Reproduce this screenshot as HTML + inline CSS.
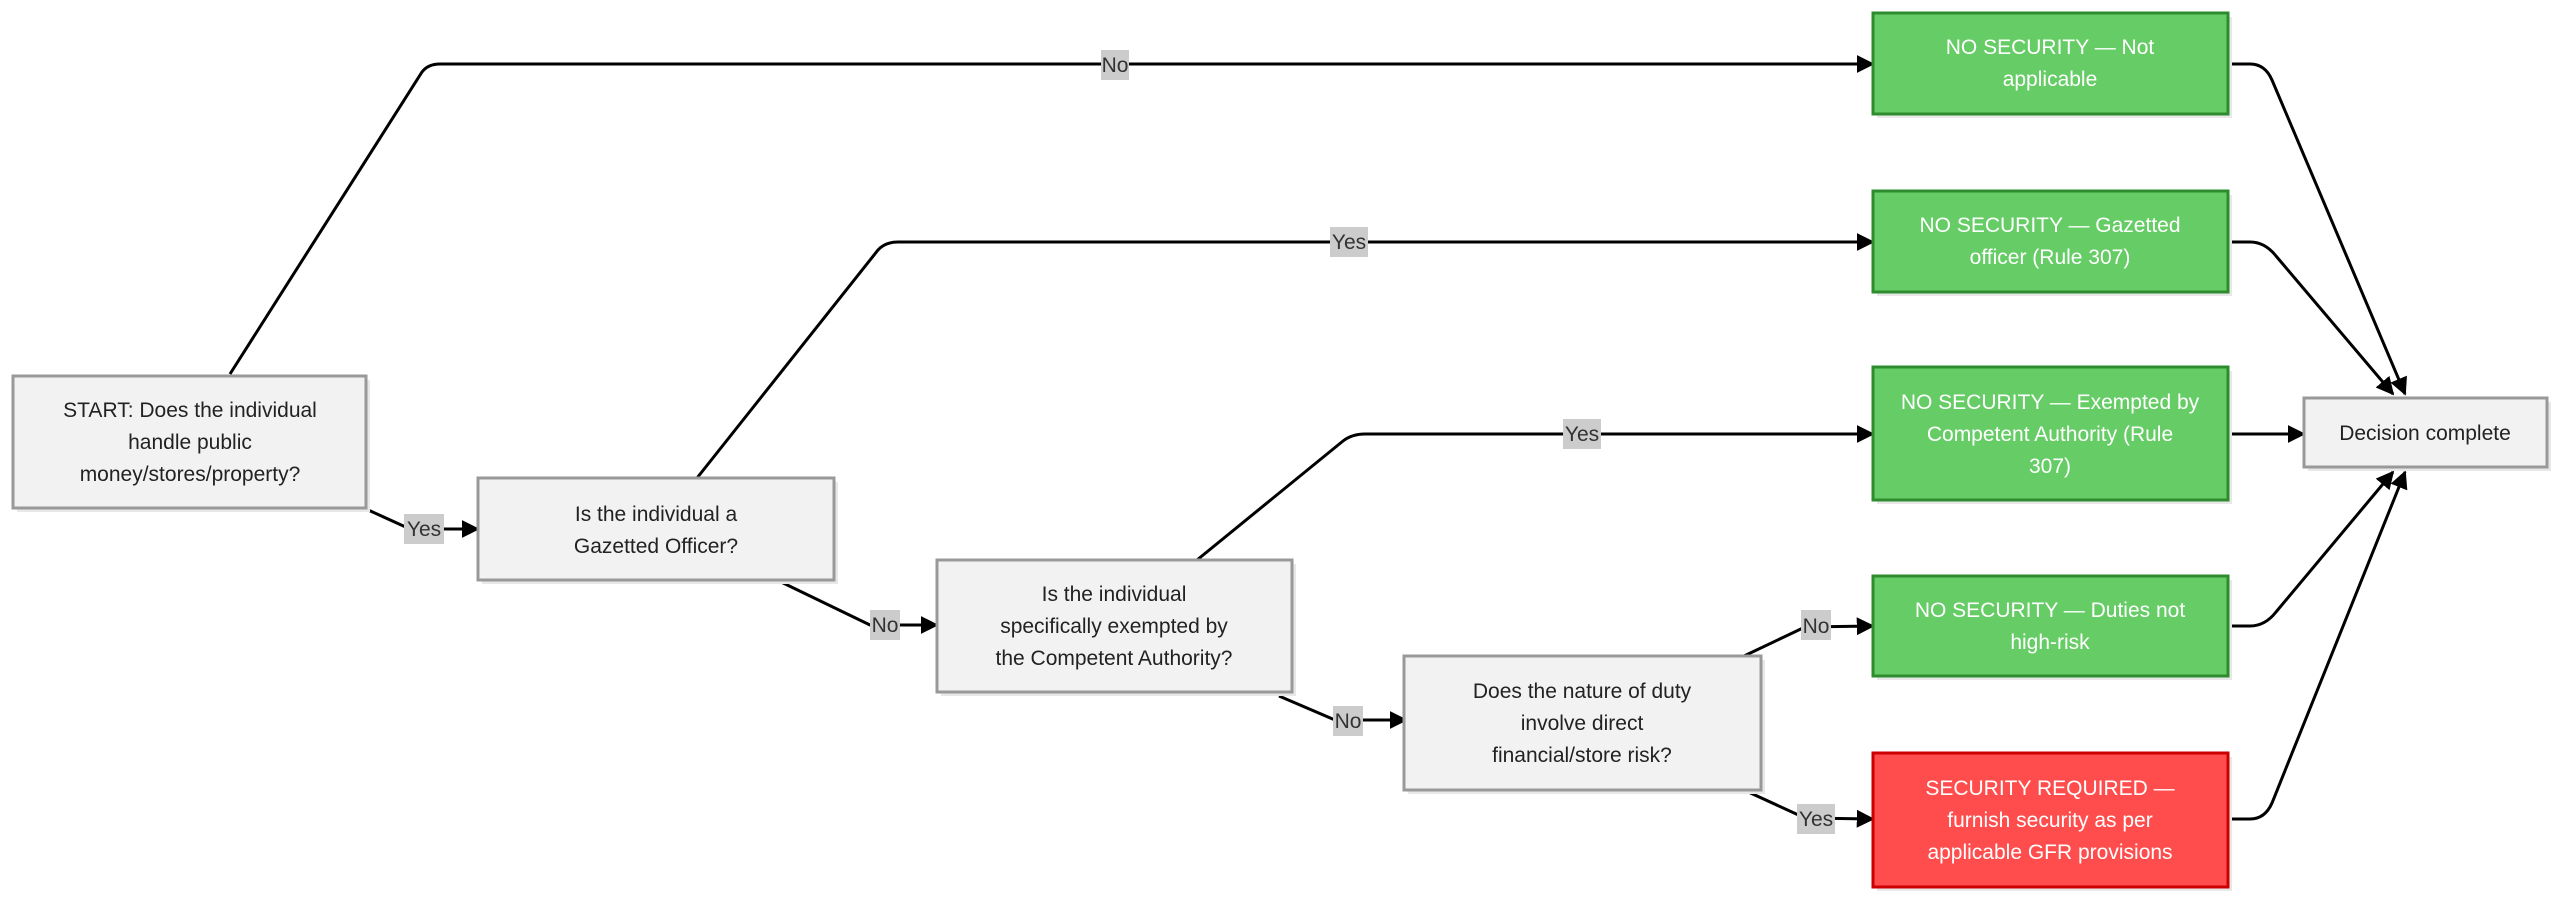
<!DOCTYPE html>
<html><head><meta charset="utf-8"><style>
html,body{margin:0;padding:0;background:#fff;width:2560px;height:899px;overflow:hidden}
svg text{font-family:"Liberation Sans",sans-serif;}
</style></head><body>
<svg width="2560" height="899" viewBox="0 0 2560 899" xmlns="http://www.w3.org/2000/svg">
<defs>
<marker id="a" viewBox="0 0 10 10" refX="9" refY="5" markerWidth="6" markerHeight="6" markerUnits="strokeWidth" orient="auto"><path d="M0,0 L10,5 L0,10 z" fill="#000"/></marker>
</defs>
<g fill="none" stroke="#000" stroke-width="3">
<path d="M230,374 L422,72 Q428,64 440,64 L1873,64" marker-end="url(#a)"/>
<path d="M697,478 L878,250 Q885,242 898,242 L1873,242" marker-end="url(#a)"/>
<path d="M1197,560 L1343,441 Q1352,434 1365,434 L1873,434" marker-end="url(#a)"/>
<path d="M366,509 L410,529 L478,529" marker-end="url(#a)"/>
<path d="M779,581 L870,625 L937,625" marker-end="url(#a)"/>
<path d="M1279,696 L1335,720 L1406,720" marker-end="url(#a)"/>
<path d="M1744,656 L1805,627 L1873,626" marker-end="url(#a)"/>
<path d="M1744,790 L1805,818 L1873,819" marker-end="url(#a)"/>
<path d="M2228,64 L2250,64 Q2265,64 2272,80 L2405,394" marker-end="url(#a)"/>
<path d="M2228,242 L2250,242 Q2265,242 2276,256 L2393,394" marker-end="url(#a)"/>
<path d="M2228,434 L2304,434" marker-end="url(#a)"/>
<path d="M2228,626 L2250,626 Q2265,626 2276,612 L2393,472" marker-end="url(#a)"/>
<path d="M2228,819 L2250,819 Q2265,819 2272,803 L2405,472" marker-end="url(#a)"/>
</g>
<g fill="#e8e8e8">
<rect x="17" y="380" width="353" height="132"/><rect x="482" y="482" width="356" height="102"/>
<rect x="941" y="564" width="355" height="132"/><rect x="1408" y="660" width="357" height="134"/>
<rect x="1877" y="17" width="355" height="101"/><rect x="1877" y="195" width="355" height="101"/>
<rect x="1877" y="371" width="355" height="133"/><rect x="1877" y="580" width="355" height="100"/>
<rect x="1877" y="757" width="355" height="134"/><rect x="2308" y="402" width="243" height="69"/>
</g>
<g stroke-width="3">
<rect x="13" y="376" width="353" height="132" fill="#f2f2f2" stroke="#999"/>
<rect x="478" y="478" width="356" height="102" fill="#f2f2f2" stroke="#999"/>
<rect x="937" y="560" width="355" height="132" fill="#f2f2f2" stroke="#999"/>
<rect x="1404" y="656" width="357" height="134" fill="#f2f2f2" stroke="#999"/>
<rect x="1873" y="13" width="355" height="101" fill="#66cc66" stroke="#2e8b2e"/>
<rect x="1873" y="191" width="355" height="101" fill="#66cc66" stroke="#2e8b2e"/>
<rect x="1873" y="367" width="355" height="133" fill="#66cc66" stroke="#2e8b2e"/>
<rect x="1873" y="576" width="355" height="100" fill="#66cc66" stroke="#2e8b2e"/>
<rect x="1873" y="753" width="355" height="134" fill="#ff4d4d" stroke="#cc0000"/>
<rect x="2304" y="398" width="243" height="69" fill="#f2f2f2" stroke="#999"/>
</g>
<g fill="#ccc">
<rect x="1101" y="50" width="28" height="30"/><rect x="1330" y="227" width="38" height="30"/>
<rect x="1563" y="419" width="38" height="30"/><rect x="404" y="514" width="40" height="30"/>
<rect x="870" y="610" width="30" height="30"/><rect x="1333" y="706" width="30" height="30"/>
<rect x="1801" y="610" width="30" height="30"/><rect x="1797" y="804" width="38" height="30"/>
</g>
<g font-size="21" fill="#333" text-anchor="middle">
<text x="1115" y="72">No</text><text x="1349" y="249">Yes</text><text x="1582" y="441">Yes</text>
<text x="424" y="536">Yes</text><text x="885" y="632">No</text><text x="1348" y="728">No</text>
<text x="1816" y="633">No</text><text x="1816" y="826">Yes</text>
</g>
<g font-size="21" fill="#222" text-anchor="middle">
<text x="190" y="417">START: Does the individual</text><text x="190" y="449">handle public</text><text x="190" y="481">money/stores/property?</text>
<text x="656" y="521">Is the individual a</text><text x="656" y="553">Gazetted Officer?</text>
<text x="1114" y="601">Is the individual</text><text x="1114" y="633">specifically exempted by</text><text x="1114" y="665">the Competent Authority?</text>
<text x="1582" y="698">Does the nature of duty</text><text x="1582" y="730">involve direct</text><text x="1582" y="762">financial/store risk?</text>
<text x="2425" y="440">Decision complete</text>
</g>
<g font-size="21" fill="#fff" text-anchor="middle">
<text x="2050" y="54">NO SECURITY — Not</text><text x="2050" y="86">applicable</text>
<text x="2050" y="232">NO SECURITY — Gazetted</text><text x="2050" y="264">officer (Rule 307)</text>
<text x="2050" y="409">NO SECURITY — Exempted by</text><text x="2050" y="441">Competent Authority (Rule</text><text x="2050" y="473">307)</text>
<text x="2050" y="617">NO SECURITY — Duties not</text><text x="2050" y="649">high-risk</text>
<text x="2050" y="795">SECURITY REQUIRED —</text><text x="2050" y="827">furnish security as per</text><text x="2050" y="859">applicable GFR provisions</text>
</g>
</svg>
</body></html>
